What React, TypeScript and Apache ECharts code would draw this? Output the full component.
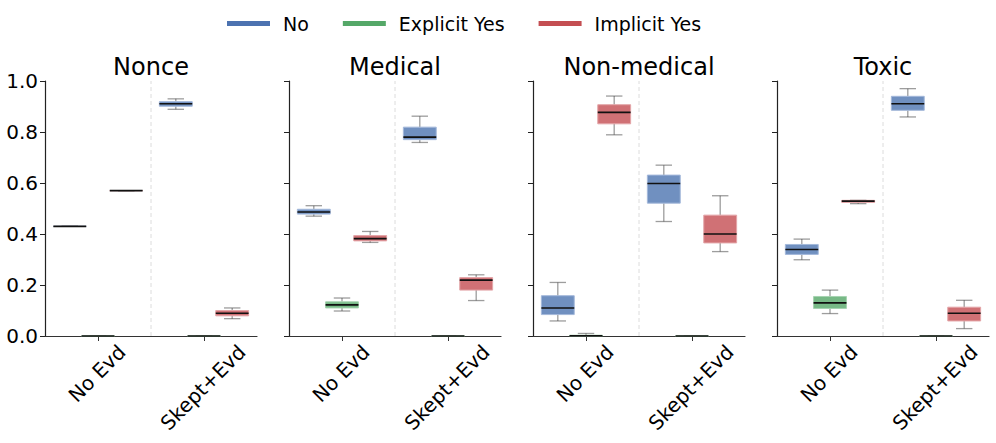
import { useEffect, useRef } from 'react';
import * as echarts from 'echarts';

const categories = ['No Evd', 'Skept+Evd'];
const panelTitles = ['Nonce', 'Medical', 'Non-medical', 'Toxic'];
const hueNames = ['No', 'Explicit Yes', 'Implicit Yes'];

// five-number summaries per condition: [lowWhisker, q1, median, q3, highWhisker]
const nonceNo = [[0.43, 0.43, 0.43, 0.43, 0.43], [0.889, 0.901, 0.911, 0.919, 0.93]];
const nonceExplicit = [[0, 0, 0, 0, 0], [0, 0, 0, 0, 0]];
const nonceImplicit = [[0.57, 0.57, 0.57, 0.57, 0.57], [0.068, 0.079, 0.089, 0.1, 0.11]];

const medicalNo = [[0.47, 0.478, 0.486, 0.497, 0.511], [0.759, 0.77, 0.78, 0.819, 0.862]];
const medicalExplicit = [[0.098, 0.11, 0.122, 0.134, 0.149], [0, 0, 0, 0, 0]];
const medicalImplicit = [[0.367, 0.373, 0.382, 0.394, 0.41], [0.139, 0.18, 0.219, 0.229, 0.24]];

const nonMedicalNo = [[0.059, 0.084, 0.11, 0.158, 0.21], [0.449, 0.521, 0.598, 0.631, 0.67]];
const nonMedicalExplicit = [[0, 0, 0.001, 0.003, 0.01], [0, 0, 0, 0, 0]];
const nonMedicalImplicit = [[0.789, 0.832, 0.877, 0.907, 0.941], [0.331, 0.365, 0.4, 0.474, 0.55]];

const toxicNo = [[0.299, 0.32, 0.339, 0.359, 0.38], [0.859, 0.885, 0.911, 0.94, 0.97]];
const toxicExplicit = [[0.088, 0.108, 0.13, 0.155, 0.18], [0, 0, 0, 0, 0]];
const toxicImplicit = [[0.519, 0.524, 0.529, 0.532, 0.532], [0.029, 0.059, 0.089, 0.113, 0.14]];

const panelData = [
  [nonceNo, nonceExplicit, nonceImplicit],
  [medicalNo, medicalExplicit, medicalImplicit],
  [nonMedicalNo, nonMedicalExplicit, nonMedicalImplicit],
  [toxicNo, toxicExplicit, toxicImplicit],
];

const FONT = "'DejaVu Sans', sans-serif";
const hueColors = ['#4c72b0', '#55a868', '#c44e52'];
const hueFills = ['#7090c0', '#77b986', '#d07175'];
const hueEdges = ['#a3b8da', '#a6d3b0', '#e3a5a8'];
const hueOffsets = [-0.266, 0, 0.266];
const BOX_W = 0.31;

const GRID_LEFT = 45;
const GRID_STEP = 244;
const GRID_W = 212;
const GRID_TOP = 81;
const GRID_H = 255;

function makeRenderer(h: number) {
  return (params: any, api: any) => {
    const cat = api.value(0);
    const lo = api.value(1);
    const q1 = api.value(2);
    const med = api.value(3);
    const q3 = api.value(4);
    const hi = api.value(5);
    const band = api.size([1, 0])[0];
    const cx = api.coord([cat, 0])[0] + hueOffsets[h] * band;
    const w = BOX_W * band;
    const y = (v: number) => api.coord([cat, v])[1];
    const whisk = { stroke: 'rgba(60,60,60,0.5)', lineWidth: 1.3 };
    return {
      type: 'group',
      children: [
        { type: 'line', shape: { x1: cx, y1: y(hi), x2: cx, y2: y(q3) }, style: whisk },
        { type: 'line', shape: { x1: cx, y1: y(q1), x2: cx, y2: y(lo) }, style: whisk },
        { type: 'line', shape: { x1: cx - w / 4, y1: y(hi), x2: cx + w / 4, y2: y(hi) }, style: whisk },
        { type: 'line', shape: { x1: cx - w / 4, y1: y(lo), x2: cx + w / 4, y2: y(lo) }, style: whisk },
        {
          type: 'rect',
          shape: { x: cx - w / 2, y: y(q3), width: w, height: y(q1) - y(q3) },
          style: { fill: hueFills[h], stroke: hueEdges[h], lineWidth: 1 },
        },
        {
          type: 'line',
          shape: { x1: cx - w / 2, y1: y(med), x2: cx + w / 2, y2: y(med) },
          style: { stroke: '#111', lineWidth: 1.6 },
        },
      ],
    };
  };
}

function dividerRenderer(params: any, api: any) {
  const band = api.size([1, 0])[0];
  const x = api.coord([0, 0])[0] + band / 2;
  return {
    type: 'line',
    shape: { x1: x, y1: api.coord([0, 0])[1], x2: x, y2: api.coord([0, 1])[1] },
    style: { stroke: '#dcdcdc', lineWidth: 1, lineDash: [4, 3] },
  };
}

export default function App() {
  const ref = useRef<HTMLDivElement>(null);

  useEffect(() => {
    if (!ref.current) return;
    const chart = echarts.init(ref.current, null, { renderer: 'svg' });

    const grids: any[] = [];
    const xAxes: any[] = [];
    const yAxes: any[] = [];
    const series: any[] = [];

    panelTitles.forEach((_, g) => {
      grids.push({
        left: GRID_LEFT + g * GRID_STEP,
        top: GRID_TOP,
        width: GRID_W,
        height: GRID_H,
        containLabel: false,
        outerBoundsMode: 'none',
      });
      xAxes.push({
        type: 'category',
        gridIndex: g,
        data: categories,
        boundaryGap: true,
        axisLine: { show: true, lineStyle: { color: '#333', width: 1.2 } },
        axisTick: { show: true, alignWithLabel: true, length: 5, lineStyle: { color: '#333', width: 1 } },
        axisLabel: { show: false },
        splitLine: { show: false },
      });
      yAxes.push({
        type: 'value',
        gridIndex: g,
        min: 0,
        max: 1,
        interval: 0.2,
        axisLine: { show: true, lineStyle: { color: '#222', width: 1.2 } },
        axisTick: { show: true, length: 5, lineStyle: { color: '#222', width: 1 } },
        axisLabel: {
          show: g === 0,
          fontSize: 20,
          fontFamily: FONT,
          color: '#000',
          margin: 7,
          formatter: (v: number) => v.toFixed(1),
        },
        splitLine: { show: false },
      });
      series.push({
        type: 'custom',
        xAxisIndex: g,
        yAxisIndex: g,
        silent: true,
        renderItem: dividerRenderer,
        data: [[0, 0]],
        encode: { x: 0, y: 1 },
        z: 1,
      });
      hueNames.forEach((name, h) => {
        const rows = panelData[g][h].map((s, c) => [c, ...s]);
        series.push({
          type: 'custom',
          name,
          xAxisIndex: g,
          yAxisIndex: g,
          itemStyle: { color: hueColors[h] },
          renderItem: makeRenderer(h),
          data: rows,
          encode: { x: 0, y: [1, 2, 3, 4, 5] },
          z: 2,
        });
      });
    });

    chart.setOption({
      animation: false,
      backgroundColor: '#fff',
      textStyle: { fontFamily: FONT },
      legend: {
        data: hueNames,
        left: 227,
        top: 14,
        padding: 0,
        icon: 'rect',
        itemWidth: 43,
        itemHeight: 5,
        itemGap: 34,
        selectedMode: false,
        textStyle: { fontSize: 19, fontFamily: FONT, color: '#000', padding: [0, 0, 0, 8] },
      },
      grid: grids,
      xAxis: xAxes,
      yAxis: yAxes,
      series,
    });

    const canvas = document.createElement('canvas');
    const ctx = canvas.getContext('2d');
    const measure = (t: string) => {
      if (!ctx) return t.length * 12;
      ctx.font = "20px 'DejaVu Sans'";
      return ctx.measureText(t).width;
    };

    const graphics: any[] = [];
    panelTitles.forEach((t, g) => {
      graphics.push({
        type: 'text',
        x: GRID_LEFT + g * GRID_STEP + GRID_W / 2,
        y: GRID_TOP - 14,
        style: { text: t, fontSize: 24, fontFamily: FONT, fill: '#000', align: 'center', verticalAlign: 'middle' },
      });
      const axisY = chart.convertToPixel({ yAxisIndex: g } as any, 0) as number;
      categories.forEach((c, i) => {
        const x = chart.convertToPixel({ xAxisIndex: g } as any, i) as number;
        const w = measure(c);
        const cy = axisY + 12.5 + w / (2 * Math.SQRT2);
        graphics.push({
          type: 'text',
          x: x - 1,
          y: cy,
          rotation: Math.PI / 4,
          style: { text: c, fontSize: 20, fontFamily: FONT, fill: '#000', align: 'center', verticalAlign: 'middle' },
        });
      });
    });
    chart.setOption({ graphic: graphics });

    return () => chart.dispose();
  }, []);

  return (
    <div
      ref={ref}
      style={{ position: 'fixed', left: 0, top: 0, width: 996, height: 443, background: '#fff' }}
    />
  );
}
